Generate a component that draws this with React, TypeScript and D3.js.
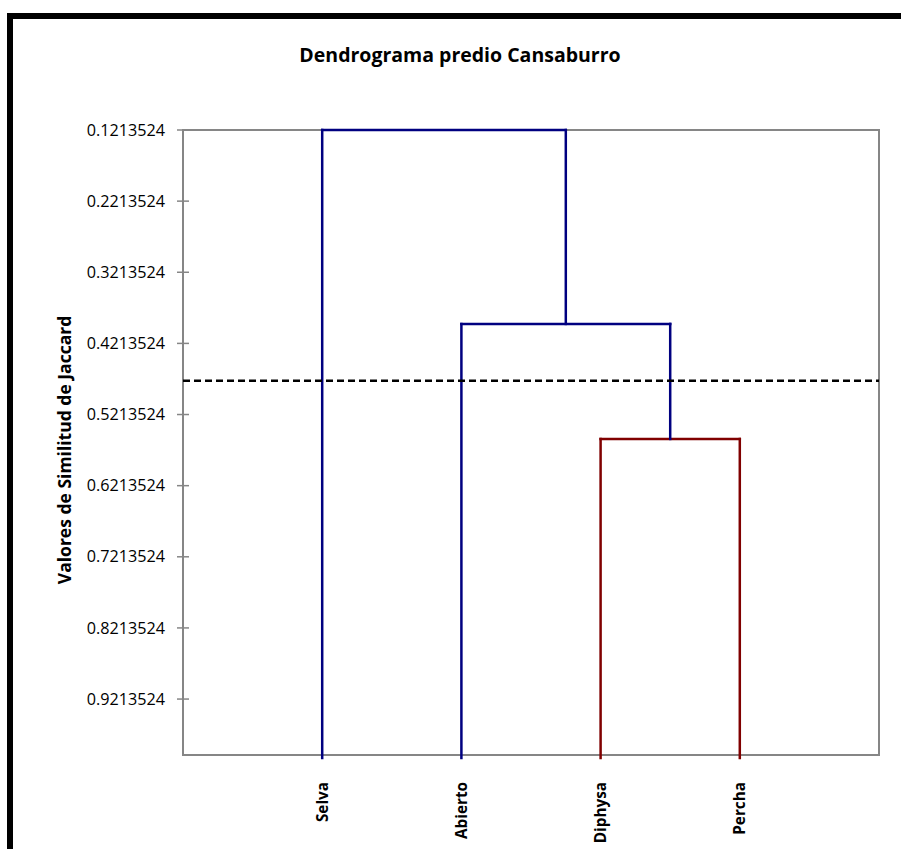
import React from "react";
import * as d3 from "d3";

const leaves = ["Selva", "Abierto", "Diphysa", "Percha"];
// merges: node ids 4,5,6 formed by joining mergeA[i] and mergeB[i]
const mergeA = [2, 1, 0];
const mergeB = [3, 4, 5];
const mergeHeight = [0.5557, 0.394, 0.1213524];
const leafHeight = 1.0;
const cutoff = 0.474;
const yMin = 0.1213524;
const yMax = 1.0;
const tickValues = [0.1213524, 0.2213524, 0.3213524, 0.4213524, 0.5213524, 0.6213524, 0.7213524, 0.8213524, 0.9213524];
const tickLabels = ["0.1213524", "0.2213524", "0.3213524", "0.4213524", "0.5213524", "0.6213524", "0.7213524", "0.8213524", "0.9213524"];
const title = "Dendrograma predio Cansaburro";
const yTitle = "Valores de Similitud de Jaccard";

const BLUE = "#000080";
const RED = "#800000";
const mergeColors = [RED, BLUE, BLUE];

export default function App() {
  const left = 183, right = 879, top = 130, bottom = 755;
  const x = d3.scaleLinear().domain([0, leaves.length + 1]).range([left, right]);
  const y = d3.scaleLinear().domain([yMin, yMax]).range([top, bottom]);

  const nodeX: number[] = leaves.map((_, i) => x(i + 1));
  const nodeH: number[] = leaves.map(() => leafHeight);
  mergeA.forEach((a, i) => {
    const b = mergeB[i];
    nodeX.push((nodeX[a] + nodeX[b]) / 2);
    nodeH.push(mergeHeight[i]);
  });

  const font = "'Open Sans', 'Noto Sans', sans-serif";

  const segs: { x1: number; y1: number; x2: number; y2: number; c: string }[] = [];
  mergeA.forEach((a, i) => {
    const b = mergeB[i];
    const h = mergeHeight[i];
    const c = mergeColors[i];
    segs.push({ x1: nodeX[a], y1: y(nodeH[a]) + (a < leaves.length ? 3 : 0), x2: nodeX[a], y2: y(h), c });
    segs.push({ x1: nodeX[b], y1: y(nodeH[b]) + (b < leaves.length ? 3 : 0), x2: nodeX[b], y2: y(h), c });
    segs.push({ x1: nodeX[a], y1: y(h), x2: nodeX[b], y2: y(h), c });
  });

  return (
    <svg width={901} height={849} style={{ position: "absolute", left: 0, top: 0, background: "#fff" }}>
      <rect x={0} y={0} width={901} height={849} fill="#fff" />
      <rect x={10} y={16} width={920} height={860} fill="none" stroke="#000" strokeWidth={6} />
      <text x={460} y={62} textAnchor="middle" fontFamily={font} fontWeight="bold" fontSize={19.5}>{title}</text>
      <rect x={left} y={top} width={right - left} height={bottom - top} fill="none" stroke="#868686" strokeWidth={2} />
      {tickValues.map((v, i) => (
        <g key={i}>
          <line x1={left - 6} x2={left + 6} y1={y(v)} y2={y(v)} stroke="#868686" strokeWidth={1.5} />
          <text x={165} y={y(v)} dy="0.35em" textAnchor="end" fontFamily={font} fontSize={16.2} fill="#000">{tickLabels[i]}</text>
        </g>
      ))}
      <text transform="translate(65,450) rotate(-90)" dy="0.35em" textAnchor="middle" fontFamily={font} fontWeight="bold" fontSize={17.5}>{yTitle}</text>
      {segs.map((s, i) => (
        <line key={i} x1={s.x1} y1={s.y1} x2={s.x2} y2={s.y2} stroke={s.c} strokeWidth={2.5} strokeLinecap="square" />
      ))}
      <line x1={left} x2={right} y1={y(cutoff)} y2={y(cutoff)} stroke="#000" strokeWidth={2.5} strokeDasharray="7,4" />
      {leaves.map((name, i) => (
        <text key={name} transform={`translate(${x(i + 1)},782) rotate(-90)`} dy="0.35em" textAnchor="end" fontFamily={font} fontWeight="bold" fontSize={15.3}>{name}</text>
      ))}
    </svg>
  );
}
